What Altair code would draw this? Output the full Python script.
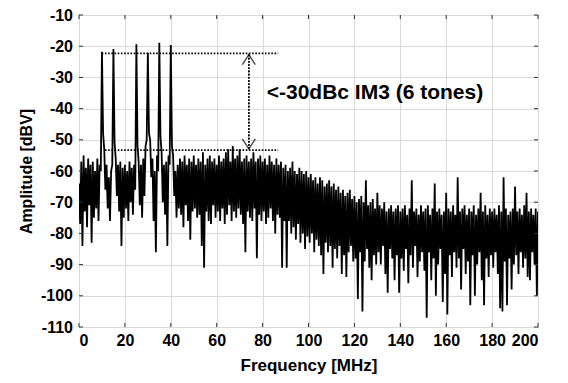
import altair as alt
import pandas as pd

# ---- spectrum values ----
# upper excursions at integer MHz (0..200)
hi_vals = [
    -64, -57, -55, -59, -56, -58, -57, -60, -56, -58,
    -47, -53, -58, -62, -60, -50, -56, -58, -57, -59,
    -58, -60, -57, -59, -58, -55, -57, -58, -56, -52,
    -47, -50, -56, -60, -55, -48, -54, -58, -57, -55,
    -51, -55, -60, -58, -56, -57, -55, -58, -56, -57,
    -55, -58, -56, -57, -54, -58, -56, -55, -57, -56,
    -58, -55, -57, -56, -54, -53, -57, -52, -56, -55,
    -53, -57, -56, -55, -57, -56, -54, -57, -56, -55,
    -57, -56, -58, -55, -57, -58, -56, -58, -57, -59,
    -58, -60, -59, -57, -60, -61, -59, -60, -61, -60,
    -62, -61, -63, -62, -64, -62, -63, -65, -64, -63,
    -65, -64, -66, -65, -67, -66, -68, -67, -66, -69,
    -68, -70, -69, -68, -70, -63, -71, -70, -69, -72,
    -67, -71, -72, -70, -73, -72, -71, -73, -72, -71,
    -73, -72, -71, -74, -72, -63, -73, -72, -74, -71,
    -73, -72, -71, -74, -72, -64, -73, -72, -74, -73,
    -67, -72, -73, -71, -74, -62, -73, -72, -71, -74,
    -72, -73, -71, -74, -72, -67, -73, -71, -74, -72,
    -73, -72, -74, -71, -73, -62, -72, -74, -73, -72,
    -65, -73, -72, -74, -71, -67, -73, -72, -74, -72,
    -73,
]
# lower excursions at half MHz (0.5..199.5)
lo_vals = [
    -77, -84, -73, -78, -71, -83, -75, -72, -76, -60,
    -48, -66, -72, -76, -58, -51, -68, -73, -84, -75,
    -72, -76, -70, -74, -66, -52, -71, -75, -68, -50,
    -48, -62, -76, -86, -60, -49, -70, -74, -84, -58,
    -52, -68, -75, -72, -74, -78, -71, -76, -82, -73,
    -72, -75, -74, -84, -91, -73, -76, -77, -71, -75,
    -73, -76, -72, -77, -74, -71, -76, -73, -75, -72,
    -74, -77, -86, -73, -75, -76, -72, -88, -74, -76,
    -73, -77, -75, -72, -76, -80, -74, -75, -91, -76,
    -91, -76, -80, -78, -82, -77, -83, -80, -85, -81,
    -83, -80, -86, -82, -84, -87, -93, -83, -86, -84,
    -91, -85, -88, -84, -93, -87, -94, -86, -84, -89,
    -88, -101, -86, -105, -89, -85, -91, -95, -87, -90,
    -86, -90, -84, -93, -99, -85, -88, -95, -87, -99,
    -88, -92, -85, -96, -87, -91, -84, -94, -89, -86,
    -92, -107, -86, -95, -88, -100, -90, -85, -102, -93,
    -106, -87, -94, -86, -91, -88, -98, -85, -93, -89,
    -103, -87, -100, -90, -86, -95, -103, -88, -94, -87,
    -91, -86, -93, -104, -105, -89, -103, -88, -98, -90,
    -87, -93, -86, -91, -88, -94, -95, -86, -90, -100,
]
# the six tones
tone_freq = [10, 15, 25, 30, 35, 40]
tone_peak = [-21.8, -20.9, -19.4, -22.1, -18.9, -19.6]

# axis ticks
x_ticks = [0, 20, 40, 60, 80, 100, 120, 140, 160, 180, 200]
y_ticks = [-110, -100, -90, -80, -70, -60, -50, -40, -30, -20, -10]

# annotation
ann_levels = [-22.3, -53.3]
ann_start = [9.9, 11.3]
ann_end = [86.8, 86.8]
arrow_f = 74
ann_text = "<-30dBc IM3 (6 tones)"
ann_text_pos = (81.8, -35.0)

# ---- build the table ----
freqs, amps = [], []
for i, h in enumerate(hi_vals):
    freqs.append(float(i)); amps.append(h)
    if i < len(lo_vals):
        freqs.append(i + 0.5); amps.append(lo_vals[i])
for f, p in zip(tone_freq, tone_peak):
    amps[freqs.index(float(f))] = p
spec = pd.DataFrame({"f": freqs, "a": amps})

FONT = "Liberation Sans"
xs = alt.Scale(domain=[0, 200], nice=False, zero=False)
ys = alt.Scale(domain=[-110, -10], nice=False, zero=False)

x_axis = alt.Axis(values=x_ticks, tickCount=len(x_ticks), title="Frequency [MHz]",
                  labelExpr="'' + datum.value", labelPadding=5, titlePadding=9,
                  labelOverlap=False, titleFontSize=17)
y_axis = alt.Axis(values=y_ticks, tickCount=len(y_ticks), title="Amplitude [dBV]",
                  labelExpr="'' + datum.value", labelPadding=6.5, titlePadding=6,
                  labelOverlap=False, titleFontSize=16)

line = alt.Chart(spec).mark_line(color="black", strokeWidth=1.8, clip=True).encode(
    x=alt.X("f:Q", scale=xs, axis=x_axis),
    y=alt.Y("a:Q", scale=ys, axis=y_axis),
)

# inward ticks (MATLAB style)
TX = 1.3   # dB
TY = 1.75  # MHz
tick_col = "#333333"
xt = pd.DataFrame({"t": x_ticks})
yt = pd.DataFrame({"t": y_ticks})
bt = alt.Chart(xt).mark_rule(color=tick_col, strokeWidth=1).encode(
    x=alt.X("t:Q", scale=xs, axis=x_axis), y=alt.datum(-110), y2=alt.datum(-110 + TX))
tt = alt.Chart(xt).mark_rule(color=tick_col, strokeWidth=1).encode(
    x=alt.X("t:Q", scale=xs, axis=x_axis), y=alt.datum(-10), y2=alt.datum(-10 - TX))
lt = alt.Chart(yt).mark_rule(color=tick_col, strokeWidth=1).encode(
    y=alt.Y("t:Q", scale=ys, axis=y_axis), x=alt.datum(0), x2=alt.datum(TY))
rt = alt.Chart(yt).mark_rule(color=tick_col, strokeWidth=1).encode(
    y=alt.Y("t:Q", scale=ys, axis=y_axis), x=alt.datum(200), x2=alt.datum(200 - TY))

ann = pd.DataFrame({"y": ann_levels, "x1": ann_start, "x2": ann_end})
hlines = alt.Chart(ann).mark_rule(color="black", strokeWidth=1.6, strokeDash=[1.6, 1.6]).encode(
    x=alt.X("x1:Q", scale=xs, axis=x_axis), x2="x2:Q", y=alt.Y("y:Q", scale=ys, axis=y_axis))
vline = alt.Chart(ann).mark_rule(color="black", strokeWidth=1.6, strokeDash=[1.6, 1.6]).encode(
    x=alt.datum(arrow_f), y=alt.datum(ann_levels[0] - 0.4), y2=alt.datum(ann_levels[1] + 0.4))
head_top = alt.Chart(ann.iloc[[0]]).mark_point(
    shape="M-0.65,1L0,0L0.65,1", size=400, filled=False, color="black", strokeWidth=1.4).encode(
    x=alt.datum(arrow_f), y=alt.datum(ann_levels[0] - 0.4))
head_bot = alt.Chart(ann.iloc[[1]]).mark_point(
    shape="M-0.65,-1L0,0L0.65,-1", size=400, filled=False, color="black", strokeWidth=1.4).encode(
    x=alt.datum(arrow_f), y=alt.datum(ann_levels[1] + 0.4))
label = alt.Chart(pd.DataFrame({"t": [ann_text]})).mark_text(
    align="left", baseline="middle", font=FONT, fontSize=21, fontWeight="bold", color="black").encode(
    x=alt.datum(ann_text_pos[0]), y=alt.datum(ann_text_pos[1]), text="t:N")

chart = alt.layer(line, bt, tt, lt, rt, hlines, vline, head_top, head_bot, label).properties(
    width=459, height=312,
    autosize=alt.AutoSizeParams(type="none"),
    padding={"left": 71, "top": 7, "right": 22, "bottom": 48},
    background="white",
).configure_view(
    stroke="#404040", strokeWidth=1
).configure_axis(
    grid=True, gridColor="#dadada", gridWidth=1, domain=False, ticks=False,
    labelFont=FONT, labelFontSize=16, labelFontWeight="bold", labelColor="black",
    labelOverlap=False,
    titleFont=FONT, titleFontWeight="bold", titleColor="black",
)

chart.save("out.html", embed_options={"renderer": "svg", "actions": False})
